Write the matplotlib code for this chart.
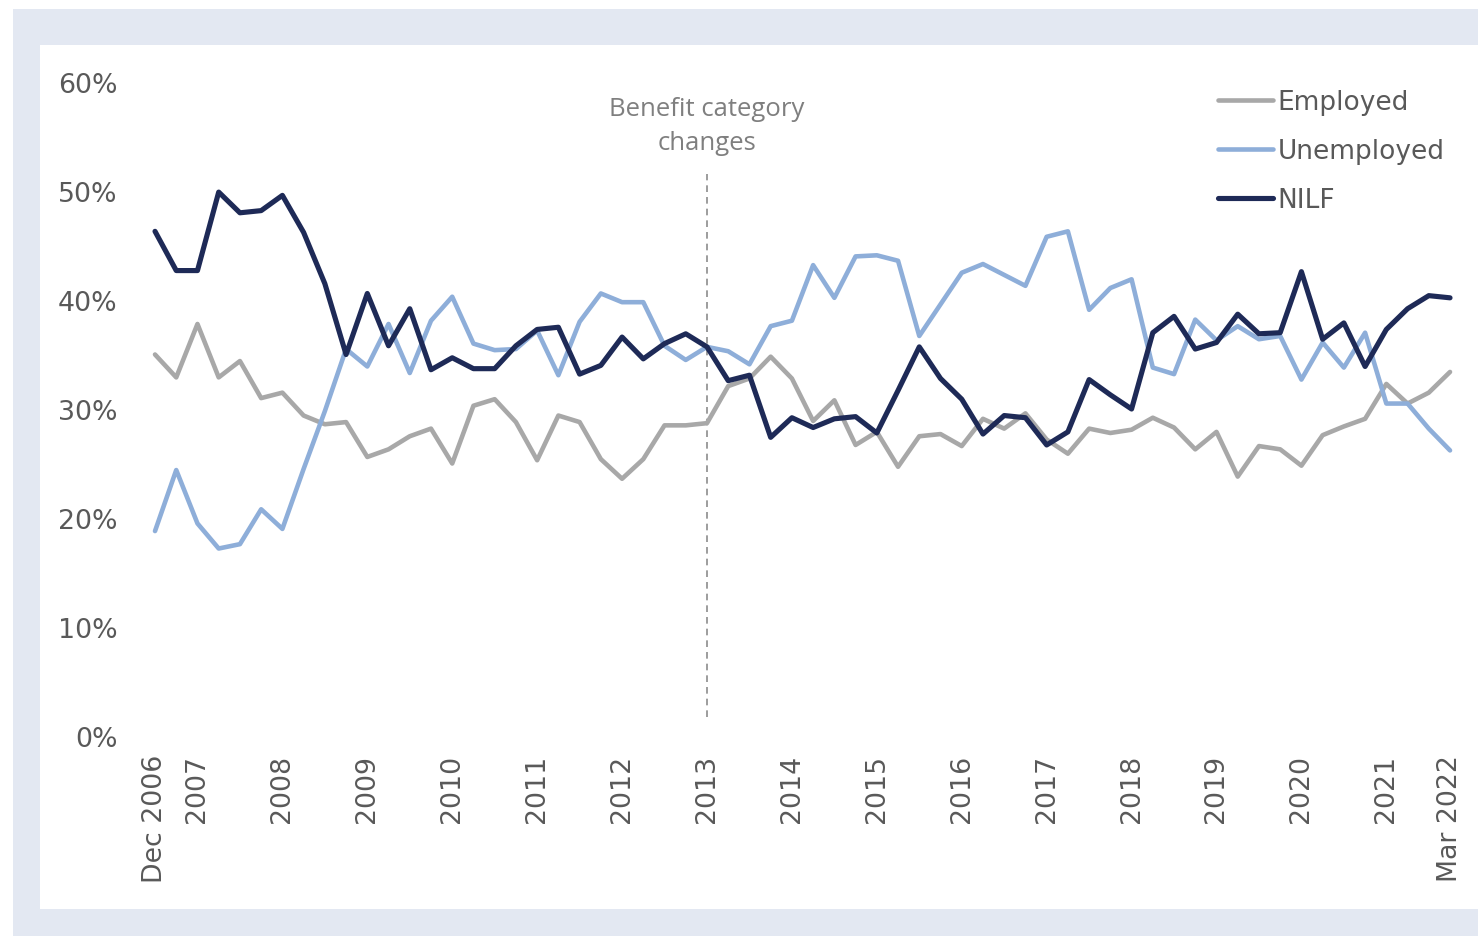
import matplotlib
matplotlib.use("Agg")
import matplotlib.pyplot as plt
from matplotlib.patches import Rectangle

plt.rcParams["font.family"] = ["DejaVu Sans"]

# Quarterly shares (%) from Dec 2006 to Mar 2022
tick_positions = [0, 2, 6, 10, 14, 18, 22, 26, 30, 34, 38, 42, 46, 50, 54, 58, 61]
tick_labels = ["Dec 2006", "2007", "2008", "2009", "2010", "2011", "2012", "2013",
               "2014", "2015", "2016", "2017", "2018", "2019", "2020", "2021", "Mar 2022"]

employed = [35.0, 32.9, 37.8, 32.9, 34.4, 31.0, 31.5, 29.4, 28.6, 28.8,
            25.6, 26.3, 27.5, 28.2, 25.0, 30.3, 30.9, 28.8, 25.3, 29.4,
            28.8, 25.4, 23.6, 25.4, 28.5, 28.5, 28.7, 32.1, 32.8, 34.8,
            32.8, 28.9, 30.8, 26.7, 27.9, 24.7, 27.5, 27.7, 26.6, 29.1,
            28.2, 29.6, 27.2, 25.9, 28.2, 27.8, 28.1, 29.2, 28.3, 26.3,
            27.9, 23.8, 26.6, 26.3, 24.8, 27.6, 28.4, 29.1, 32.3, 30.5,
            31.5, 33.4]

unemployed = [18.8, 24.4, 19.5, 17.2, 17.6, 20.8, 19.0, 24.5, 29.8, 35.5,
              33.9, 37.8, 33.3, 38.1, 40.3, 36.0, 35.4, 35.5, 37.2, 33.1,
              38.0, 40.6, 39.8, 39.8, 35.8, 34.5, 35.7, 35.3, 34.1, 37.6,
              38.1, 43.2, 40.2, 44.0, 44.1, 43.6, 36.7, 39.6, 42.5, 43.3,
              42.3, 41.3, 45.8, 46.3, 39.1, 41.1, 41.9, 33.8, 33.2, 38.2,
              36.3, 37.6, 36.4, 36.7, 32.7, 36.1, 33.8, 37.0, 30.5, 30.5,
              28.2, 26.2]

nilf = [46.3, 42.7, 42.7, 49.9, 48.0, 48.2, 49.6, 46.2, 41.5, 35.0,
        40.6, 35.8, 39.2, 33.6, 34.7, 33.7, 33.7, 35.8, 37.3, 37.5,
        33.2, 34.0, 36.6, 34.6, 36.0, 36.9, 35.7, 32.6, 33.1, 27.4,
        29.2, 28.3, 29.1, 29.3, 27.8, 31.7, 35.7, 32.8, 30.9, 27.7,
        29.4, 29.2, 26.7, 27.9, 32.7, 31.3, 30.0, 37.0, 38.5, 35.5,
        36.1, 38.7, 36.9, 37.0, 42.6, 36.4, 37.9, 33.9, 37.3, 39.2,
        40.4, 40.2]

change_index = 26
y_ticks = [0, 10, 20, 30, 40, 50, 60]

W, H = 1478, 937
fig = plt.figure(figsize=(W / 100, H / 100), dpi=100)
fig.patch.set_facecolor("white")

# Framed panel: light band with a white card inside
fig.patches.append(Rectangle((13 / W, 0), 1 - 13 / W, 1 - 10 / H,
                             transform=fig.transFigure, facecolor="#E3E8F2",
                             edgecolor="none", zorder=-10))
fig.patches.append(Rectangle((40 / W, 1 - 910 / H), 1 - 40 / W, (910 - 46) / H,
                             transform=fig.transFigure, facecolor="white",
                             edgecolor="none", zorder=-9))

ax = fig.add_axes([140 / W, 1 - 737 / H, (1460 - 140) / W, (737 - 83) / H])
ax.set_facecolor("none")
ax.set_zorder(1)

x = list(range(len(employed)))
line_kw = dict(solid_joinstyle="round", solid_capstyle="round")
ax.plot(x, employed, color="#A8A8A8", lw=3.3, label="Employed", zorder=3, **line_kw)
ax.plot(x, unemployed, color="#8EAED9", lw=3.3, label="Unemployed", zorder=4, **line_kw)
ax.plot(x, nilf, color="#1E2A57", lw=3.7, label="NILF", zorder=5, **line_kw)

ax.plot([change_index, change_index], [1.7, 51.6], color="#8C8C8C", lw=1.2,
        ls=(0, (4, 3)), zorder=2)
ax.text(change_index, 56.0, "Benefit category\nchanges", ha="center", va="center",
        fontsize=18.5, color="#7F7F7F", family="Open Sans", linespacing=1.5)

ax.set_xlim(-0.707, 61.47)
ax.set_ylim(0, 60)
ax.set_yticks(y_ticks)
ax.set_yticklabels([f"{v}%" for v in y_ticks])
ax.set_xticks(tick_positions)
ax.set_xticklabels(tick_labels, rotation=90, va="top", ha="center")
ax.tick_params(axis="both", length=0, labelsize=19.3, labelcolor="#595959")
ax.tick_params(axis="y", pad=16)
ax.tick_params(axis="x", pad=13)
for s in ax.spines.values():
    s.set_visible(False)

leg = ax.legend(loc="upper left", bbox_to_anchor=(1218 / W, 1 - 90 / H),
                bbox_transform=fig.transFigure, frameon=False, fontsize=19,
                handlelength=2.1, handletextpad=0.15, labelspacing=0.87,
                borderaxespad=0, borderpad=0)
for t in leg.get_texts():
    t.set_color("#595959")

fig.savefig("out.png", dpi=100, facecolor="white")
